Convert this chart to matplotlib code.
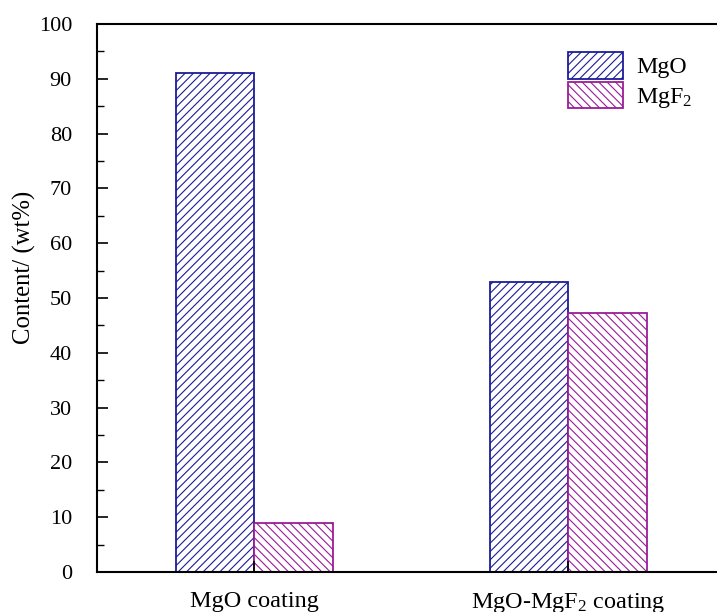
import numpy as np
import matplotlib
matplotlib.use('Agg')
import matplotlib.pyplot as plt
from matplotlib.ticker import MultipleLocator

# data
categories = ['MgO coating', 'MgO-MgF$_2$ coating']
mgo = [91.0, 53.0]
mgf2 = [9.0, 47.2]
series_names = ['MgO', 'MgF$_2$']

plt.rcParams['font.family'] = ['Liberation Serif', 'DejaVu Serif']
plt.rcParams['mathtext.fontset'] = 'custom'
plt.rcParams['mathtext.rm'] = 'Liberation Serif'
plt.rcParams['mathtext.it'] = 'Liberation Serif:italic'
plt.rcParams['hatch.linewidth'] = 0.8

fig = plt.figure(figsize=(7.17, 6.12), dpi=100)
# axes runs slightly past the right edge, so the right spine is cut off
ax = fig.add_axes([97 / 717, 40 / 612, 628 / 717, 548 / 612])

x = np.arange(len(categories))
w = 0.25
blue = '#1c1c96'
purple = '#9a1c9a'
ax.bar(x - w / 2, mgo, w, facecolor='white', edgecolor=blue, hatch='////',
       linewidth=1.3, label=series_names[0])
ax.bar(x + w / 2, mgf2, w, facecolor='white', edgecolor=purple, hatch='\\\\\\\\',
       linewidth=1.3, label=series_names[1])

ax.set_xlim(-0.5, 1.5)
ax.set_ylim(0, 100)
ax.set_xticks(x)
ax.set_xticklabels(categories, fontsize=17.5)
ax.yaxis.set_major_locator(MultipleLocator(10))
ax.yaxis.set_minor_locator(MultipleLocator(5))
ax.tick_params(axis='y', which='major', direction='in', length=8, width=1.2, labelsize=16, pad=18)
ax.tick_params(axis='y', which='minor', direction='in', length=5, width=1.0)
ax.tick_params(axis='x', which='major', direction='in', length=8, width=1.2, pad=14)
ax.set_ylabel('Content/ (wt%)', fontsize=17.8, labelpad=2, y=0.555)
for s in ax.spines.values():
    s.set_linewidth(1.5)

leg = ax.legend(loc='upper left', bbox_to_anchor=(568 / 717, 1 - 52 / 612),
                bbox_transform=fig.transFigure, frameon=False, fontsize=17.2,
                handlelength=2.3, handleheight=1.33, labelspacing=0.13,
                handletextpad=0.55, borderpad=0, borderaxespad=0)

fig.savefig('out.png', dpi=100)
